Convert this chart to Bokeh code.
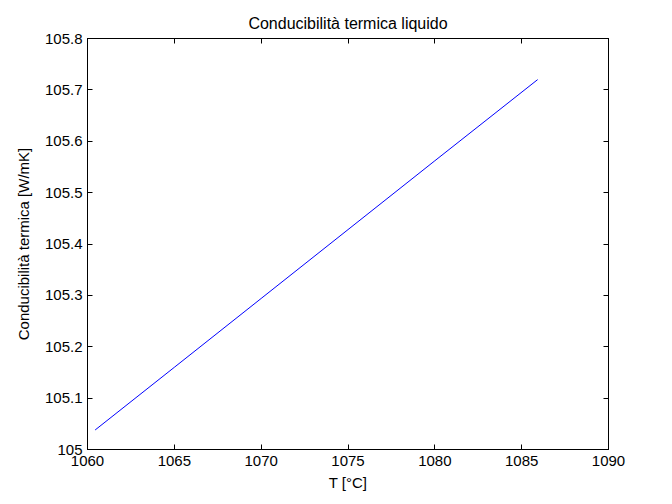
from bokeh.plotting import figure
from bokeh.models import LinearAxis, FixedTicker, CustomJSTickFormatter, Range1d
from bokeh.embed import file_html
from bokeh.resources import INLINE

# Data
temperature = [1060.44, 1065.0, 1070.0, 1075.0, 1080.0, 1085.92]
conductivity = [105.038, 105.160, 105.294, 105.428, 105.562, 105.720]

x_ticks = [1060, 1065, 1070, 1075, 1080, 1085, 1090]
y_ticks = [105.0, 105.1, 105.2, 105.3, 105.4, 105.5, 105.6, 105.7, 105.8]

title_text = "Conducibilità termica liquido"
x_label = "T [°C]"
y_label = "Conducibilità termica [W/mK]"

FONT = "Liberation Sans"

p = figure(width=656, height=496, output_backend="svg", toolbar_location=None,
           x_range=Range1d(1060, 1090), y_range=Range1d(105, 105.8),
           min_border_left=87, min_border_right=48, min_border_top=38, min_border_bottom=47,
           x_axis_location=None, y_axis_location=None)

p.title.text = title_text
p.title.align = "center"
p.title.text_font = FONT
p.title.text_font_size = "16px"
p.title.text_font_style = "normal"
p.title.text_color = "black"
p.title.standoff = 13

p.xgrid.visible = False
p.ygrid.visible = False
p.outline_line_color = "black"
p.outline_line_width = 1
p.background_fill_color = "white"
p.border_fill_color = "white"

p.line(temperature, conductivity, line_color="#0000ff", line_width=1)

fmt_y = CustomJSTickFormatter(code="var s = tick.toFixed(1); return s.endsWith('.0') ? s.slice(0, -2) : s;")


def style(ax, labels=True):
    ax.major_tick_in = 5
    ax.major_tick_out = 0
    ax.minor_tick_in = 0
    ax.minor_tick_out = 0
    ax.axis_line_color = "black"
    ax.major_tick_line_color = "black"
    ax.major_label_text_font = FONT
    ax.major_label_text_font_size = "15px"
    ax.major_label_text_color = "black"
    ax.axis_label_text_font = FONT
    ax.axis_label_text_font_size = "15px"
    ax.axis_label_text_font_style = "normal"
    ax.axis_label_text_color = "black"
    if not labels:
        ax.major_label_text_font_size = "0px"
        ax.major_label_text_alpha = 0


xb = LinearAxis(ticker=FixedTicker(ticks=x_ticks), axis_label=x_label)
style(xb)
xb.major_label_standoff = 6
xb.axis_label_standoff = 5
p.add_layout(xb, "below")

yl = LinearAxis(ticker=FixedTicker(ticks=y_ticks), formatter=fmt_y, axis_label=y_label)
style(yl)
yl.major_label_standoff = 5
yl.axis_label_standoff = 10
p.add_layout(yl, "left")

xt = LinearAxis(ticker=FixedTicker(ticks=x_ticks))
style(xt, labels=False)
xt.major_label_standoff = 0
p.add_layout(xt, "above")

yr = LinearAxis(ticker=FixedTicker(ticks=y_ticks))
style(yr, labels=False)
yr.major_label_standoff = 0
p.add_layout(yr, "right")

open("out.html", "w").write(file_html(p, INLINE))
